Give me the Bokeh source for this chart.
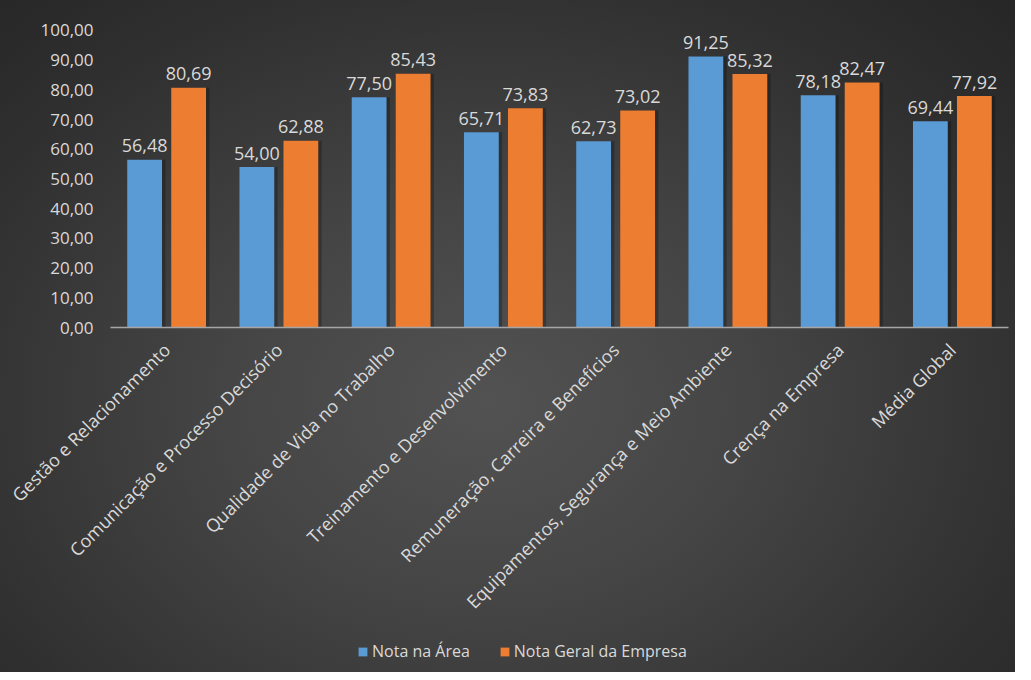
import math
from bokeh.plotting import figure
from bokeh.models import ColumnDataSource, Range1d, Legend, LegendItem
from bokeh.transform import dodge
from bokeh.core.properties import value
from bokeh.embed import file_html
from bokeh.resources import INLINE

categories = [
    "Gestão e Relacionamento",
    "Comunicação e Processo Decisório",
    "Qualidade de Vida no Trabalho",
    "Treinamento e Desenvolvimento",
    "Remuneração, Carreira e Benefícios",
    "Equipamentos, Segurança e Meio Ambiente",
    "Crença na Empresa",
    "Média Global",
]
nota_area = [56.48, 54.00, 77.50, 65.71, 62.73, 91.25, 78.18, 69.44]
nota_geral = [80.69, 62.88, 85.43, 73.83, 73.02, 85.32, 82.47, 77.92]
y_ticks = [0, 10, 20, 30, 40, 50, 60, 70, 80, 90, 100]
series_names = ["Nota na Área", "Nota Geral da Empresa"]

def fmt(v):
    return f"{v:.2f}".replace(".", ",")

# ---- layout (pixels) ----
W, H = 1015, 672
PLOT_LEFT, PLOT_RIGHT = 110, 1008       # horizontal extent of the category axis
PLOT_TOP_VAL, PLOT_TOP_PX, ZERO_PX = 102, 24, 327
n = len(categories)
px_per_cat = (PLOT_RIGHT - PLOT_LEFT) / n
px_per_unit = (ZERO_PX - PLOT_TOP_PX) / PLOT_TOP_VAL
x_start = -0.5 - PLOT_LEFT / px_per_cat
x_end = x_start + W / px_per_cat
y_end = PLOT_TOP_VAL + PLOT_TOP_PX / px_per_unit
y_start = -(H - ZERO_PX) / px_per_unit

TXT = "#d9d9d9"
FONT = "Open Sans"

idx = list(range(n))
src = ColumnDataSource(dict(
    idx=idx,
    cat=categories,
    area=nota_area,
    geral=nota_geral,
    area_lbl=[fmt(v) for v in nota_area],
    geral_lbl=[fmt(v) for v in nota_geral],
    lbl_y=[-19 / px_per_unit] * n,
))
tick_src = ColumnDataSource(dict(
    y=y_ticks,
    x=[-0.5] * len(y_ticks),
    txt=[fmt(t) for t in y_ticks],
))

p = figure(
    x_range=Range1d(x_start, x_end), y_range=Range1d(y_start, y_end),
    width=W, height=H,
    output_backend="svg", toolbar_location=None,
    min_border=0,
)
p.styles = {"background": "radial-gradient(ellipse at 48% 60%, #525252 0%, #454545 35%, #303030 75%, #262626 100%)"}
p.border_fill_color = None
p.background_fill_color = None
p.outline_line_color = None
p.grid.visible = False
p.xaxis.visible = False
p.yaxis.visible = False

off = 0.196
bw = 0.31
sh = 0.03
# soft shadows to the right of the bars
p.vbar(x=dodge("idx", -off + sh), top="area", width=bw, bottom=0,
       source=src, fill_color="black", fill_alpha=0.25, line_color=None)
p.vbar(x=dodge("idx", off + sh), top="geral", width=bw, bottom=0,
       source=src, fill_color="black", fill_alpha=0.25, line_color=None)

r1 = p.vbar(x=dodge("idx", -off), top="area", width=bw, bottom=0,
            source=src, fill_color="#5b9bd5", line_color=None)
r2 = p.vbar(x=dodge("idx", off), top="geral", width=bw, bottom=0,
            source=src, fill_color="#ed7d31", line_color=None)

# category axis line at zero
p.segment(x0=-0.5, x1=n - 0.5, y0=0, y1=0, line_color="#a6a6a6", line_width=1.5)

# data labels
p.text(x=dodge("idx", -off), y="area", text="area_lbl", source=src,
       text_align="center", text_baseline="alphabetic", y_offset=-14,
       text_font=value(FONT), text_font_size="18px", text_color=TXT)
p.text(x=dodge("idx", off), y="geral", text="geral_lbl", source=src,
       text_align="center", text_baseline="alphabetic", y_offset=-14,
       text_font=value(FONT), text_font_size="18px", text_color=TXT)

# value axis labels
p.text(x="x", y="y", text="txt", source=tick_src, x_offset=-17,
       text_align="right", text_baseline="middle",
       text_font=value(FONT), text_font_size="17px", text_color=TXT)

# category labels (rotated 45 degrees)
p.text(x="idx", y="lbl_y", text="cat", source=src, angle=math.pi / 4,
       text_align="right", text_baseline="middle",
       text_font=value(FONT), text_font_size="18px", text_color=TXT)

legend = Legend(
    items=[LegendItem(label=series_names[0], renderers=[r1]),
           LegendItem(label=series_names[1], renderers=[r2])],
    location=(357, 10), orientation="horizontal",
    background_fill_alpha=0, border_line_color=None,
    label_text_font=FONT, label_text_font_size="16px", label_text_color=TXT,
    glyph_width=11, glyph_height=11, label_standoff=4, spacing=29,
    padding=0, margin=0,
)
p.add_layout(legend)

open("out.html", "w").write(file_html(p, INLINE))
